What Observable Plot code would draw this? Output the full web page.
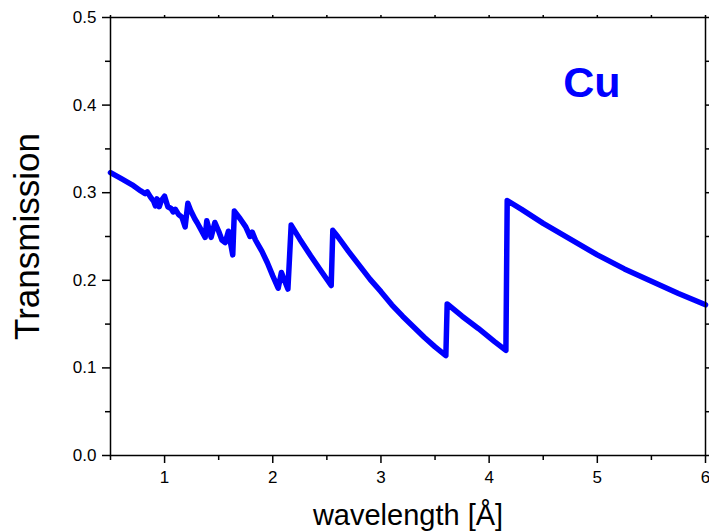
<!DOCTYPE html>
<html>
<head>
<meta charset="utf-8">
<script src="https://cdn.jsdelivr.net/npm/d3@7"></script>
<script src="https://cdn.jsdelivr.net/npm/@observablehq/plot@0.6"></script>
<style>
  html, body { margin: 0; padding: 0; background: white; }
</style>
</head>
<body>
<div id="chart"></div>
<script>
const wavelength = [0.50, 0.60, 0.70, 0.78, 0.82, 0.84, 0.87, 0.90, 0.915, 0.93, 0.95, 0.97, 1.00, 1.03, 1.06, 1.08, 1.10, 1.13, 1.16, 1.19, 1.215, 1.24, 1.28, 1.30, 1.34, 1.375, 1.39, 1.43, 1.465, 1.50, 1.53, 1.56, 1.59, 1.63, 1.645, 1.70, 1.75, 1.79, 1.81, 1.84, 1.90, 1.95, 2.00, 2.05, 2.08, 2.14, 2.17, 2.25, 2.35, 2.45, 2.54, 2.555, 2.6, 2.7, 2.8, 2.9, 3.0, 3.1, 3.2, 3.3, 3.4, 3.5, 3.6, 3.612, 3.75, 3.9, 4.05, 4.155, 4.167, 4.3, 4.5, 4.75, 5.0, 5.25, 5.5, 5.75, 6.0];
const transmission = [0.323, 0.316, 0.309, 0.302, 0.299, 0.301, 0.295, 0.290, 0.285, 0.293, 0.284, 0.291, 0.296, 0.284, 0.282, 0.278, 0.281, 0.275, 0.272, 0.261, 0.288, 0.280, 0.270, 0.266, 0.257, 0.249, 0.268, 0.249, 0.266, 0.256, 0.246, 0.243, 0.256, 0.229, 0.279, 0.270, 0.261, 0.250, 0.255, 0.246, 0.233, 0.220, 0.205, 0.191, 0.209, 0.190, 0.263, 0.247, 0.228, 0.210, 0.194, 0.257, 0.250, 0.233, 0.217, 0.201, 0.187, 0.172, 0.159, 0.147, 0.135, 0.124, 0.114, 0.173, 0.159, 0.145, 0.130, 0.120, 0.291, 0.281, 0.265, 0.247, 0.229, 0.213, 0.199, 0.185, 0.172];
const xMajorTicks = [1, 2, 3, 4, 5, 6];
const xMinorTicks = [0.5, 1.5, 2.5, 3.5, 4.5, 5.5];
const yMajorTicks = [0, 0.1, 0.2, 0.3, 0.4, 0.5];
const yMinorTicks = [0.05, 0.15, 0.25, 0.35, 0.45];
const xTitle = "wavelength [Å]";
const yTitle = "Transmission";
const elementLabel = "Cu";

const rows = wavelength.map((w, i) => ({wavelength: w, transmission: transmission[i]}));
const fontFamily = "'Liberation Sans', Arial, Helvetica, sans-serif";

const chart = Plot.plot({
  width: 709,
  height: 532,
  marginLeft: 110,
  marginRight: 4,
  marginTop: 17,
  marginBottom: 77,
  style: {fontFamily, fontSize: "17px", color: "black", background: "white", overflow: "visible"},
  x: {domain: [0.5, 6]},
  y: {domain: [0, 0.5]},
  marks: [
    Plot.line(rows, {x: "wavelength", y: "transmission", stroke: "#0000ff", strokeWidth: 5.5, strokeLinejoin: "round", strokeLinecap: "round"}),
    Plot.frame({stroke: "black", strokeWidth: 1.5}),
    Plot.axisX({ticks: xMajorTicks, tickSize: 8, tickPadding: 7, strokeWidth: 1.5, label: null, fontSize: 17, tickFormat: d => String(d)}),
    Plot.axisX({ticks: xMinorTicks, tickSize: 5, strokeWidth: 1.5, label: null, tickFormat: () => ""}),
    Plot.axisY({ticks: yMajorTicks, tickSize: 8, tickPadding: 6, strokeWidth: 1.5, label: null, fontSize: 17, tickFormat: ".1f"}),
    Plot.axisY({ticks: yMinorTicks, tickSize: 5, strokeWidth: 1.5, label: null, tickFormat: () => ""}),
    Plot.axisX({anchor: "top", ticks: xMajorTicks.concat(xMinorTicks), tickSize: 3, strokeWidth: 1.5, label: null, tickFormat: () => ""}),
    Plot.axisY({anchor: "right", ticks: yMajorTicks.concat(yMinorTicks), tickSize: 3, strokeWidth: 1.5, label: null, tickFormat: () => ""}),
    Plot.text([yTitle], {text: d => d, frameAnchor: "left", dx: -83, rotate: -90, fontSize: 35, lineAnchor: "middle", textAnchor: "middle"}),
    Plot.text([xTitle], {text: d => d, frameAnchor: "bottom", dy: 69, fontSize: 29, lineAnchor: "bottom", textAnchor: "middle"}),
    Plot.text([elementLabel], {text: d => d, frameAnchor: "top-right", dx: -85, dy: 79, fontSize: 43, fontWeight: "bold", fill: "#0000ff", textAnchor: "end", lineAnchor: "bottom"})
  ]
});
document.getElementById("chart").appendChild(chart);
</script>
</body>
</html>
